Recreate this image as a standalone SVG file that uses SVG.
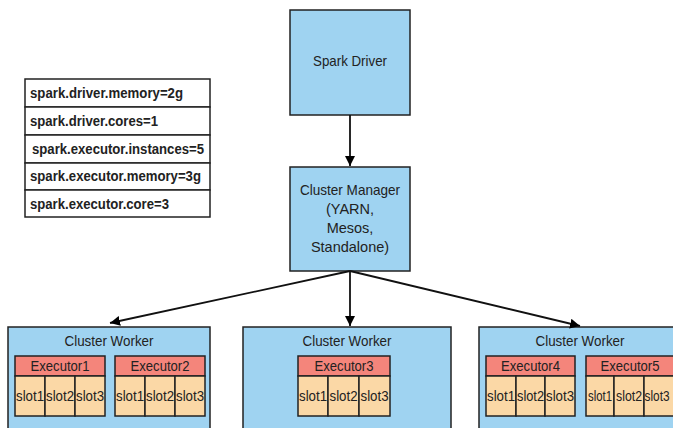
<svg xmlns="http://www.w3.org/2000/svg" width="673" height="428" viewBox="0 0 673 428">
<defs>
<marker id="ah" viewBox="0 0 10 10" refX="10" refY="5" markerWidth="10" markerHeight="10" markerUnits="userSpaceOnUse" orient="auto">
<path d="M0,0 L10,5 L0,10 z" fill="#000"/>
</marker>
</defs>
<style>
text{font-family:"Liberation Sans",Arial,sans-serif;fill:#222}
.box{fill:#9fd3f1;stroke:#222;stroke-width:1.5}
.cfg{fill:#fff;stroke:#222;stroke-width:1.5}
.ct{font-size:14.5px;font-weight:bold}
.lbl{font-size:14.5px;text-anchor:middle}
.eh{fill:#f4857b;stroke:#222;stroke-width:1.5}
.sl{fill:#fbd8a6;stroke:#222;stroke-width:1.5}
.st{font-size:15px;text-anchor:middle}
.st5{font-size:14px;text-anchor:middle}
.conn{stroke:#111;stroke-width:1.8;fill:none;marker-end:url(#ah)}
</style>
<rect width="673" height="428" fill="#fff"/>

<g id="config">
<rect class="cfg" x="25" y="79" width="185" height="28"/>
<rect class="cfg" x="25" y="107" width="185" height="28"/>
<rect class="cfg" x="25" y="135" width="185" height="28"/>
<rect class="cfg" x="25" y="163" width="185" height="27"/>
<rect class="cfg" x="25" y="190" width="185" height="27"/>
<text class="ct" x="30" y="98" textLength="153" lengthAdjust="spacingAndGlyphs">spark.driver.memory=2g</text>
<text class="ct" x="30" y="126" textLength="128" lengthAdjust="spacingAndGlyphs">spark.driver.cores=1</text>
<text class="ct" x="32" y="154" textLength="172" lengthAdjust="spacingAndGlyphs">spark.executor.instances=5</text>
<text class="ct" x="30" y="181" textLength="171" lengthAdjust="spacingAndGlyphs">spark.executor.memory=3g</text>
<text class="ct" x="30" y="209" textLength="139" lengthAdjust="spacingAndGlyphs">spark.executor.core=3</text>
</g>

<g id="driver">
<rect class="box" x="290" y="10" width="120" height="105"/>
<text class="lbl" x="350" y="66" textLength="74" lengthAdjust="spacingAndGlyphs">Spark Driver</text>
</g>

<g id="manager">
<rect class="box" x="290" y="167" width="120" height="104"/>
<text class="lbl" x="350" y="195" textLength="100" lengthAdjust="spacingAndGlyphs">Cluster Manager</text>
<text class="lbl" x="350" y="214">(YARN,</text>
<text class="lbl" x="350" y="233">Mesos,</text>
<text class="lbl" x="350" y="252">Standalone)</text>
</g>

<g id="worker1">
<rect class="box" x="8" y="327" width="202" height="110"/>
<text class="lbl" x="109" y="346" textLength="89" lengthAdjust="spacingAndGlyphs">Cluster Worker</text>
<g id="executor1">
<rect class="eh" x="15" y="356" width="90" height="20"/>
<text class="lbl" x="60" y="371" textLength="59" lengthAdjust="spacingAndGlyphs">Executor1</text>
<rect class="sl" x="15" y="376" width="30" height="40"/>
<rect class="sl" x="45" y="376" width="30" height="40"/>
<rect class="sl" x="75" y="376" width="30" height="40"/>
<text class="st" x="30" y="401" textLength="28" lengthAdjust="spacingAndGlyphs">slot1</text>
<text class="st" x="60" y="401" textLength="28" lengthAdjust="spacingAndGlyphs">slot2</text>
<text class="st" x="90" y="401" textLength="28" lengthAdjust="spacingAndGlyphs">slot3</text>
</g>
<g id="executor2">
<rect class="eh" x="115" y="356" width="90" height="20"/>
<text class="lbl" x="160" y="371" textLength="59" lengthAdjust="spacingAndGlyphs">Executor2</text>
<rect class="sl" x="115" y="376" width="30" height="40"/>
<rect class="sl" x="145" y="376" width="30" height="40"/>
<rect class="sl" x="175" y="376" width="30" height="40"/>
<text class="st" x="130" y="401" textLength="28" lengthAdjust="spacingAndGlyphs">slot1</text>
<text class="st" x="160" y="401" textLength="28" lengthAdjust="spacingAndGlyphs">slot2</text>
<text class="st" x="190" y="401" textLength="28" lengthAdjust="spacingAndGlyphs">slot3</text>
</g>
</g>

<g id="worker2">
<rect class="box" x="243" y="327" width="208" height="110"/>
<text class="lbl" x="347" y="346" textLength="89" lengthAdjust="spacingAndGlyphs">Cluster Worker</text>
<g id="executor3">
<rect class="eh" x="298" y="356" width="92" height="20"/>
<text class="lbl" x="344" y="371" textLength="59" lengthAdjust="spacingAndGlyphs">Executor3</text>
<rect class="sl" x="298" y="376" width="30" height="40"/>
<rect class="sl" x="328" y="376" width="31" height="40"/>
<rect class="sl" x="359" y="376" width="31" height="40"/>
<text class="st" x="313" y="401" textLength="28" lengthAdjust="spacingAndGlyphs">slot1</text>
<text class="st" x="343.5" y="401" textLength="28" lengthAdjust="spacingAndGlyphs">slot2</text>
<text class="st" x="374.5" y="401" textLength="28" lengthAdjust="spacingAndGlyphs">slot3</text>
</g>
</g>

<g id="worker3">
<rect class="box" x="479" y="327" width="210" height="110"/>
<text class="lbl" x="580" y="346" textLength="89" lengthAdjust="spacingAndGlyphs">Cluster Worker</text>
<g id="executor4">
<rect class="eh" x="486" y="356" width="89" height="20"/>
<text class="lbl" x="530.5" y="371" textLength="59" lengthAdjust="spacingAndGlyphs">Executor4</text>
<rect class="sl" x="486" y="376" width="30" height="40"/>
<rect class="sl" x="516" y="376" width="29" height="40"/>
<rect class="sl" x="545" y="376" width="30" height="40"/>
<text class="st" x="501" y="401" textLength="28" lengthAdjust="spacingAndGlyphs">slot1</text>
<text class="st" x="530.5" y="401" textLength="27" lengthAdjust="spacingAndGlyphs">slot2</text>
<text class="st" x="560" y="401" textLength="28" lengthAdjust="spacingAndGlyphs">slot3</text>
</g>
<g id="executor5">
<rect class="eh" x="586" y="356" width="89" height="20"/>
<text class="lbl" x="630" y="371" textLength="59" lengthAdjust="spacingAndGlyphs">Executor5</text>
<rect class="sl" x="586" y="376" width="28" height="40"/>
<rect class="sl" x="614" y="376" width="30" height="40"/>
<rect class="sl" x="644" y="376" width="31" height="40"/>
<text class="st5" x="600" y="401" textLength="24" lengthAdjust="spacingAndGlyphs">slot1</text>
<text class="st5" x="629" y="401" textLength="26" lengthAdjust="spacingAndGlyphs">slot2</text>
<text class="st5" x="657" y="401" textLength="25" lengthAdjust="spacingAndGlyphs">slot3</text>
</g>
</g>

<g id="connectors">
<line class="conn" x1="350" y1="115" x2="350" y2="166"/>
<line class="conn" x1="350" y1="271" x2="110" y2="323"/>
<line class="conn" x1="350" y1="271" x2="350" y2="326"/>
<line class="conn" x1="350" y1="271" x2="580" y2="326"/>
</g>
</svg>
